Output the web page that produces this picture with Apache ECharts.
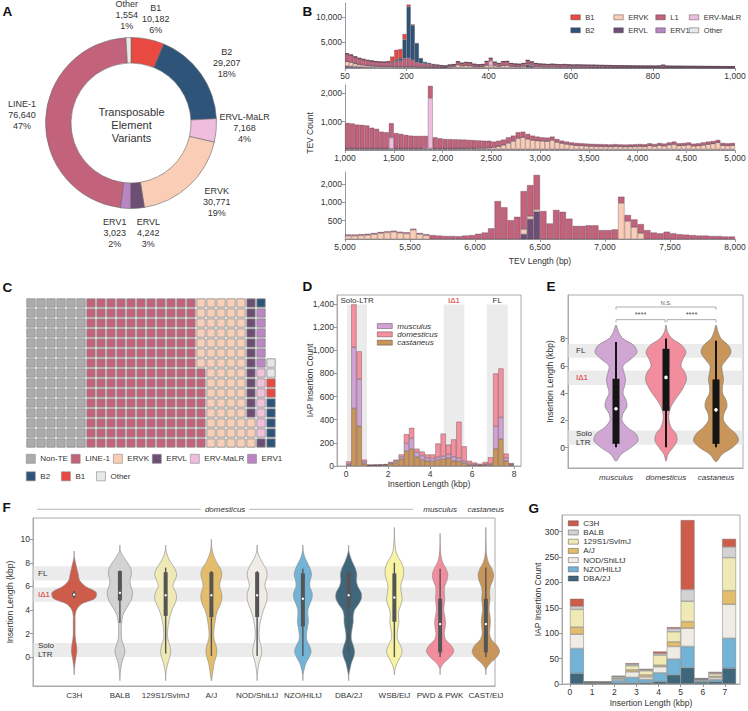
<!DOCTYPE html>
<html>
<head>
<meta charset="utf-8">
<script src="https://cdn.jsdelivr.net/npm/echarts@6.0.0/dist/echarts.min.js"></script>
<style>
html,body{margin:0;padding:0;background:#ffffff;}
#chart{width:748px;height:711px;}
</style>
</head>
<body>
<div id="chart"></div>
<script>
const FONT = '"Liberation Sans", Arial, Helvetica, sans-serif';

// ================= DATA =================
// ---- Panel A (donut) ----
const pieNames  = ['B1','B2','ERVL-MaLR','ERVK','ERVL','ERV1','LINE-1','Other'];
const pieValues = [10182,29207,7168,30771,4242,3023,76640,1554];
const pieColors = ['#e84a41','#2e5479','#efbdde','#f9cdb6','#6d4f75','#b985c2','#c3627b','#e8e8e8'];
const pieLabelOffsets = [[3,5],[5,4],[3,-5],[10,-2],[9,-1],[-9,-1],[2,-4],[-1,3]];

// ---- Panel B (TEV length histograms) ----
// top: 50-1000 bp, 10 bp bins
const bTopStart = 50, bTopWidth = 10;
const ervlTop = [400,350,300,250,200,150,150,120,100,100, 100,100,100,100,100,100,100,80,70,60,50,50,
  40,40,30,40,50,60,50,60,60,50,50,50,60, 60,60,60,60,70,60,60,60,80,
  700,400,100,60,50,50,50,50,40,40,40,40,40,
  40,40,40,40,30,30,30,30,30,30,30,30,30,30,30,30,30,30,30,30,30,30,30,30,30,30,30,30,30,30,30,30,30,30,30,30,30,30];
const ervkTop = [900,800,600,450,400,350,300,250,220,200, 200,180,150,150,150,150,150,150,150,150,150,130,
  150,130,130,220,280,600,400,450,400,250,220,250,500, 400,350,300,450,500,300,250,230,300,
  200,250,250,250,220,200,230,200,180,200,180,160,170,
  150,150,140,140,130,130,120,120,110,110,100,100,100,90,90,90,80,80,80,90,100,80,80,70,70,70,70,70,60,60,60,60,60,60,50,50,50,50];
const l1Top = [1500,1400,1300,1200,1100,1000,950,900,880,870, 880,900,1000,1150,1600,1700,1300,900,700,600,500,450,
  370,310,270,340,370,590,500,590,590,450,380,400,740, 540,640,540,740,730,540,490,460,520,
  600,550,550,490,480,450,470,450,430,460,430,400,410,
  410,390,380,380,380,360,360,350,340,330,330,320,310,310,300,290,290,290,280,300,430,270,260,260,260,250,240,240,240,240,230,230,220,220,220,220,210,210];
const malrTopPairs = [[400,900],[410,100]];
const b2TopPairs = [[160,60],[170,300],[180,500],[190,3700],[200,10000],[210,6800],[220,3650],[230,930],[240,290],[250,200],[260,80],[270,40],[280,20]];
const b1TopPairs = [[150,200],[160,1000],[170,2000],[180,1800],[190,1100],[200,450],[210,150],[220,90],[230,50],[240,20],[250,20],[260,10]];
const bTopXTicks = [50,200,400,600,800,1000];
const bTopYTicks = [5000,10000];

// middle: 1000-5000 bp, 50 bp bins
const bMidStart = 1000, bMidWidth = 50;
const ervlMid = [25,25,25,25,25,25,25,25,25,25,25,25,25,25,25,25,25,25,25,25,25,25,25,25,25,25,25,25,25,25,
  25,25,25,25,25,25,25,25,25,25,25,25,25,25,25,25,20,20,20,20,20,20,20,20,20,20,20,20,20,20,
  20,20,20,20,20,20,20,20,20,20,20,20,20,20,20,20,20,20,20,20];
const ervkMid = [30,30,30,30,30,30,30,30,30,30,30,30,30,30,30,30,30,30,30,30,30,30,30,
  35,35,40,40,50,50,60,
  80,110,160,230,300,400,430,370,330,310,300,290,330,260,220,190,
  170,150,140,130,120,115,110,110,105,110,105,100,105,110,114,110,140,120,150,130,170,190,140,150,170,130,140,160,190,210,250,150,140,150];
const l1Mid = [905,885,845,835,815,735,695,595,575,515,545,515,480,455,445,445,425,435,
  395,360,335,330,325,315,310,295,285,265,255,245,
  195,195,185,195,185,205,195,175,155,141,125,125,121,105,88,85,
  80,80,80,80,80,80,80,75,75,80,75,75,75,75,80,75,80,74,80,80,80,90,80,80,80,76,80,90,90,90,87,80,80,80];
const malrMidPairs = [[1450,380],[1800,20],[1850,1780]];
const bMidXTicks = [1000,1500,2000,2500,3000,3500,4000,4500,5000];
const bMidYTicks = [1000,2000];

// bottom: 5000-8000 bp, 50 bp bins (log count axis)
const bBotStart = 5000, bBotWidth = 50;
const ervlBot = [10,10,10,10,10,10,10,10,10,10,10,10,10,10,10,10,10,10,10,10,10,10,10,10,10,10,10,
  300,530,700,
  10,10,10,10,10,10,10,10,10,10,10,10,10,10,10,10,10,10,10,10,10,10,10,10,10,10,10,10,10,10];
const ervkBot = [272,272,275,280,289,301,309,318,305,297,345,289,275,
  150,120,100,90,90,80,80,90,100,100,
  80,70,60,60,60,60,60,60,60,60,70,70,80,80,90,90,100,110,130,
  960,480,380,300,220,200,190,210,190,180,175,170,170,165,165,160,160,155];
const l1Bot = [15,15,15,15,15,15,15,15,15,15,15,15,15,
  130,155,170,180,178,195,200,205,210,265,
  960,750,440,510,1170,1330,2060,650,380,680,620,460,320,320,320,320,240,230,220,
  270,130,135,130,120,110,110,110,110,110,110,110,105,110,105,110,105,110];
const bBotXTicks = [5000,5500,6000,6500,7000,7500,8000];
const bBotYTicks = [500,1000,2000];

// ---- Panel C (waffle, 25 x 15) ----
const waffleNames  = ['Non-TE','LINE-1','ERVK','ERVL','ERV-MaLR','ERV1','B2','B1','Other'];
const waffleCounts = [90,173,70,13,7,6,6,2,2];
const waffleColors = ['#acacac','#c3627b','#f9cfb7','#6d4f75','#f0c0dd','#bb86c3','#2e5479','#e84a41','#e6e6e6'];

// ---- Panel D (IAP insertion length histogram, 0.25 kbp bins) ----
const dStart = 0, dWidth = 0.25;
const dCastaneus  = [8,498,345,20,5,6,7,8,18,30,60,130,147,80,55,45,40,55,60,70,45,40,25,10,8,6,8,10,150,232,45,10];
const dMusculus   = [10,528,406,15,3,3,3,4,8,12,20,65,92,40,35,25,25,20,25,30,35,30,15,10,6,4,7,10,195,188,25,5];
const dDomesticus = [22,371,240,20,2,2,2,4,10,13,20,80,91,30,35,30,35,120,195,85,150,313,130,25,16,10,20,55,455,423,37,10];
const dBands = [[0.05,1.0],[4.65,5.63],[6.7,7.7]];
const dBandLabels = ['Solo-LTR','I\u03941','FL'];
const dBandTop = 1395;
const dXTicks = [0,2,4,6,8];
const dYTicks = [0,200,400,600,800,1000,1200,1400];

// ---- Panel E (violins by subspecies) ----
const eCats = ['musculus','domesticus','castaneus'];
const eColors = ['#d0a6d4','#f28d9e','#c8955a'];
const eY = [-1,-0.5,0,0.5,1,1.5,2,2.5,3,3.5,4,4.5,5,5.5,6,6.5,7,7.5,8,8.5,9];
const eProfiles = [
  [0,0.10,0.30,0.44,0.40,0.22,0.12,0.14,0.22,0.20,0.14,0.17,0.19,0.16,0.14,0.30,0.42,0.36,0.14,0.05,0],
  [0,0.04,0.14,0.22,0.20,0.10,0.06,0.06,0.10,0.18,0.28,0.36,0.41,0.38,0.30,0.34,0.40,0.32,0.12,0.03,0],
  [0.02,0.12,0.33,0.45,0.40,0.25,0.15,0.16,0.22,0.20,0.13,0.13,0.15,0.13,0.12,0.22,0.30,0.25,0.10,0.04,0]
];
// [whiskerLow, q1, median, q3, whiskerHigh]
const eBoxes = [[0.02,0.27,2.85,5.05,7.75],[0.02,2.7,5.15,7.25,8.0],[0.02,0.27,2.77,5.0,7.85]];
const eBands = [[0.2,1.25],[4.6,5.65],[6.6,7.6]];
const eBandLabels = ['Solo\nLTR','I\u03941','FL'];
const eBrackets = [[0,2,10.32,0.2],[0,0.98,9.39,0.2],[1.02,2,9.39,0.2]];
const eBracketLabels = ['N.S.','****','****'];
const eXTicks = [0,1,2];
const eYTicks = [0,2,4,6,8];

// ---- Panel F (violins by strain) ----
const fCats = ['C3H','BALB','129S1/SvImJ','A/J','NOD/ShiLtJ','NZO/HILtJ','DBA/2J','WSB/EiJ','PWD & PWK','CAST/EiJ'];
const fColors = ['#cd5c4b','#d3d3d3','#efeab5','#e3bd6b','#efebe5','#72b3d6','#3f667b','#f7f3a3','#f28d9e','#c8955a'];
const fY = [-2,-1.5,-1,-0.5,0,0.5,1,1.5,2,2.5,3,3.5,4,4.5,5,5.5,6,6.5,7,7.5,8,8.5,9,9.5,10,10.5,11];
const fProfiles = [
  [0,0,0.005,0.02,0.04,0.06,0.05,0.03,0.02,0.02,0.02,0.02,0.05,0.16,0.46,0.48,0.25,0.12,0.09,0.06,0.03,0.005,0,0,0,0,0],
  [0,0.005,0.02,0.04,0.08,0.11,0.08,0.04,0.03,0.03,0.04,0.06,0.12,0.2,0.26,0.28,0.24,0.22,0.25,0.24,0.17,0.08,0.01,0,0,0,0],
  [0,0.003,0.02,0.05,0.09,0.11,0.09,0.05,0.04,0.05,0.07,0.1,0.14,0.2,0.24,0.22,0.16,0.2,0.24,0.2,0.12,0.05,0.012,0,0,0,0],
  [0.003,0.02,0.04,0.06,0.1,0.12,0.1,0.06,0.05,0.06,0.08,0.1,0.14,0.2,0.23,0.22,0.18,0.2,0.23,0.2,0.12,0.06,0.02,0.004,0,0,0],
  [0,0.005,0.02,0.04,0.08,0.1,0.08,0.05,0.04,0.05,0.07,0.1,0.14,0.19,0.22,0.21,0.17,0.19,0.22,0.19,0.12,0.05,0.008,0,0,0,0],
  [0,0.005,0.03,0.07,0.14,0.18,0.14,0.08,0.08,0.1,0.12,0.11,0.11,0.15,0.2,0.2,0.15,0.16,0.19,0.16,0.1,0.04,0.008,0,0,0,0],
  [0,0.005,0.03,0.06,0.11,0.13,0.1,0.06,0.06,0.08,0.1,0.1,0.13,0.22,0.28,0.27,0.2,0.17,0.18,0.15,0.09,0.04,0.005,0,0,0,0],
  [0,0,0.015,0.06,0.13,0.17,0.13,0.07,0.06,0.08,0.1,0.09,0.1,0.15,0.17,0.15,0.14,0.17,0.2,0.2,0.16,0.08,0.03,0.015,0.008,0.002,0],
  [0,0,0.005,0.08,0.22,0.3,0.24,0.12,0.09,0.11,0.12,0.1,0.08,0.09,0.1,0.09,0.1,0.15,0.17,0.13,0.06,0.025,0.01,0.005,0.001,0,0],
  [0,0,0.01,0.1,0.24,0.3,0.24,0.12,0.08,0.09,0.1,0.09,0.07,0.08,0.09,0.08,0.1,0.15,0.17,0.13,0.06,0.025,0.01,0.006,0.004,0.002,0.001]
];
const fBoxes = [[5.0,5.15,5.3,5.45,5.6],[2.9,4.8,5.45,7.3,7.35],[0.3,3.5,5.25,7.2,7.6],[0.1,3.4,5.25,7.2,7.3],
  [0.1,3.4,5.25,7.2,7.3],[0.1,2.6,4.95,7.1,7.5],[0.3,4.2,5.25,7.2,7.3],[0.0,3.0,5.05,7.1,8.0],
  [0.0,0.4,2.8,4.95,7.5],[0.0,0.4,2.8,4.95,7.6]];
const fBands = [[0.0,1.2],[4.7,5.9],[6.5,7.7]];
const fBandLabels = ['Solo\nLTR','I\u03941','FL'];
const fGroups = [[-0.81,7.41,12.54],[8,8,12.54],[9,9,12.54]];
const fGroupLabels = ['domesticus','musculus','castaneus'];
const fYTicks = [0,2,4,6,8,10];

// ---- Panel G (stacked strain histogram, 0.625 kbp bins) ----
const gStart = 0, gWidth = 0.625;
const gNames = ['DBA/2J','NZO/HILtJ','NOD/ShiLtJ','A/J','129S1/SvImJ','BALB','C3H'];
const gColors = ['#3f667b','#72b3d6','#efebe5','#e3bd6b','#efeab5','#d3d3d3','#cd5c4b'];
const gDBA  = [21,1,2,2,2,3,5,18,32,4,5,31];
const gNZO  = [49,1,1,5,11,6,17,31,42,2,4,59];
const gNOD  = [28,1,0,3,11,5,12,25,36,2,4,67];
const gAJ   = [14,0,0,1,4,4,3,9,13,1,2,27];
const g129  = [35,1,1,3,8,8,20,20,40,1,5,65];
const gBALB = [6,0,0,1,3,2,3,6,23,1,2,21];
const gC3H  = [15,1,0,1,2,2,4,3,137,0,2,16];
const gXTicks = [0,1,2,3,4,5,6,7];
const gYTicks = [0,50,100,150,200,250,300];

// ================= HELPERS =================
const bColor = {'ERVL':'#6d4f75','ERVK':'#f9cdb6','ERV-MaLR':'#efbdde','L1':'#c3627b','B2':'#2e5479','B1':'#e84a41','ERV1':'#b985c2','Other':'#e8e8e8'};
const fmt = v => Number(v).toLocaleString('en-US');
function merge(a, b) {
  const out = Object.assign({}, a);
  for (const k in b) {
    if (b[k] && typeof b[k] === 'object' && !Array.isArray(b[k]) && a[k] && typeof a[k] === 'object' && !Array.isArray(a[k])) out[k] = merge(a[k], b[k]);
    else out[k] = b[k];
  }
  return out;
}
function expandBins(pairs, start, width, n) {
  const arr = new Array(n).fill(0);
  pairs.forEach(p => { arr[Math.round((p[0] - start) / width)] = p[1]; });
  return arr;
}
function binLabels(start, width, n) { return Array.from({length:n}, (_, k) => String(start + width * k)); }
const baseAxis = {
  type:'value', splitLine:{show:false}, nameLocation:'middle', nameMoveOverlap:false,
  axisLine:{show:true, onZero:false, lineStyle:{color:'#999', width:1}},
  axisTick:{show:true, length:3, inside:false, lineStyle:{color:'#999'}},
  axisLabel:{fontSize:8.5, color:'#333', fontFamily:FONT, margin:3, hideOverlap:false},
  nameTextStyle:{fontSize:8.5, color:'#333', fontFamily:FONT}
};
function ax(o) { return merge(baseAxis, o); }
function ticks(vals, formatter) {
  const o = {axisLabel:{customValues:vals}, axisTick:{customValues:vals}};
  if (formatter) o.axisLabel.formatter = formatter;
  return o;
}
function hist(name, xi, yi, vals, stack, color, border) {
  return {type:'bar', name, xAxisIndex:xi, yAxisIndex:yi, stack, barWidth:'100%', barCategoryGap:0, silent:true, z:2,
    itemStyle:{color, borderColor:border, borderWidth:0.5}, data: vals};
}

// ================= LAYOUT =================
const G = {
  bTop:{left:345, top:3, width:390, height:65},
  bMid:{left:345, top:85, width:390, height:65},
  bBot:{left:345, top:172, width:390, height:67},
  c:{left:26, top:298, width:250, height:150},
  d:{left:337, top:295, width:184, height:171, xMin:-0.43, xMax:8.33, yMax:1478},
  e:{left:568, top:295, width:175, height:173},
  f:{left:33, top:518, width:462, height:168},
  g:{left:562, top:515, width:178, height:169, xMin:-0.36, xMax:7.68, yMax:333}
};
// sub-grid holding the binned bars, aligned to the value axis of the same panel
function binGrid(g, start, end) {
  const s = g.width / (g.xMax - g.xMin);
  return {left: g.left + (start - g.xMin) * s, top:g.top, width:(end - start) * s, height:g.height};
}
const nD = dCastaneus.length, nG = gDBA.length;

// ================= SERIES =================
const series = [];
// A: donut + label ring
series.push({type:'pie', radius:[60,85.5], center:[131,123], startAngle:90, clockwise:true, silent:true,
  label:{show:false}, labelLine:{show:false}, emphasis:{disabled:true},
  itemStyle:{borderColor:'#6a6a6a', borderWidth:0.6},
  data: pieNames.map((n,i) => ({name:n, value:pieValues[i], itemStyle:{color:pieColors[i]}}))});
const pieTotal = pieValues.reduce((a,b) => a + b, 0);
series.push({type:'pie', radius:[100,116], center:[131,123], startAngle:90, clockwise:true, silent:true,
  emphasis:{disabled:true}, itemStyle:{color:'rgba(0,0,0,0)', borderWidth:0},
  label:{show:true, position:'inside', fontSize:9, lineHeight:11, color:'#333', fontFamily:FONT,
    formatter: p => p.name + '\n' + fmt(p.value) + '\n' + Math.round(p.value / pieTotal * 100) + '%'},
  labelLine:{show:false},
  data: pieNames.map((n,i) => ({name:n, value:pieValues[i], label:{offset:pieLabelOffsets[i]}}))});

// B histograms (category x axes 8,9,10 share grids 0,1,2)
const bBorder = 'rgba(55,35,55,0.55)';
const nTop = ervlTop.length, nMid = ervlMid.length, nBot = ervlBot.length;
[['ERVL',ervlTop],['ERVK',ervkTop],['ERV-MaLR',expandBins(malrTopPairs,bTopStart,bTopWidth,nTop)],['L1',l1Top],
 ['B2',expandBins(b2TopPairs,bTopStart,bTopWidth,nTop)],['B1',expandBins(b1TopPairs,bTopStart,bTopWidth,nTop)],['ERV1',[]],['Other',[]]]
 .forEach(([n,v]) => series.push(hist(n,8,0,v,'bt',bColor[n],bBorder)));
[['ERVL',ervlMid],['ERVK',ervkMid],['ERV-MaLR',expandBins(malrMidPairs,bMidStart,bMidWidth,nMid)],['L1',l1Mid]]
 .forEach(([n,v]) => series.push(hist(n,9,1,v,'bm',bColor[n],bBorder)));
[['ERVL',ervlBot],['ERVK',ervkBot],['L1',l1Bot]]
 .forEach(([n,v]) => series.push(hist(n,10,2,v,'bb',bColor[n],bBorder)));

// C waffle
const WROWS = 15, WCOLS = 25;
let cell = 0;
waffleNames.forEach((n,i) => {
  const d = [];
  for (let k = 0; k < waffleCounts[i]; k++) { d.push([Math.floor(cell / WROWS), cell % WROWS]); cell++; }
  series.push({type:'scatter', name:n, xAxisIndex:3, yAxisIndex:3, symbol:'rect', symbolSize:8.4, silent:true,
    itemStyle:{color:waffleColors[i], borderColor:'#8c8c8c', borderWidth:0.8, opacity:1}, data:d});
});

// D
series.push({type:'custom', xAxisIndex:4, yAxisIndex:4, z:1, silent:true, data:dBands.map((b,i)=>[i,0]),
  renderItem:(params, api) => {
    const i = params.dataIndex;
    const p1 = api.coord([dBands[i][0], dBandTop]), p2 = api.coord([dBands[i][1], 0]);
    return {type:'group', children:[
      {type:'rect', shape:{x:p1[0], y:p1[1], width:p2[0]-p1[0], height:p2[1]-p1[1]}, style:{fill:'#ebebeb'}},
      {type:'text', x:(p1[0]+p2[0])/2, y:p1[1]-0.5, style:{text:dBandLabels[i], fill:i===1?'#d62b2b':'#333', fontSize:8, fontFamily:FONT, align:'center', verticalAlign:'bottom'}}
    ]};
  }});
const dBorder = 'rgba(80,55,60,0.7)';
series.push(hist('castaneus',11,8,dCastaneus,'d','#c8955a',dBorder));
series.push(hist('musculus',11,8,dMusculus,'d','#cfa3d4',dBorder));
series.push(hist('domesticus',11,8,dDomesticus,'d','#f4919f',dBorder));

// violin helpers
function violinRenderer(profiles, ys, colors, stroke) {
  return (params, api) => {
    const i = params.dataIndex, cx = api.value(0), prof = profiles[i];
    let a = 0, b = prof.length - 1;
    while (a < b && prof[a] === 0 && prof[a+1] === 0) a++;
    while (b > a && prof[b] === 0 && prof[b-1] === 0) b--;
    const pts = [];
    for (let k = a; k <= b; k++) pts.push(api.coord([cx + prof[k], ys[k]]));
    for (let k = b; k >= a; k--) { if ((k === a || k === b) && prof[k] === 0) continue; pts.push(api.coord([cx - prof[k], ys[k]])); }
    return {type:'polygon', shape:{points:pts, smooth:0.3}, style:{fill:colors[i], stroke, lineWidth:0.6}};
  };
}
function boxRenderer(boxes, color, bw, lw, r) {
  return (params, api) => {
    const i = params.dataIndex, cx = api.value(0), bx = boxes[i];
    const lo = api.coord([cx, bx[0]]), q1 = api.coord([cx, bx[1]]), md = api.coord([cx, bx[2]]), q3 = api.coord([cx, bx[3]]), hi = api.coord([cx, bx[4]]);
    return {type:'group', children:[
      {type:'line', shape:{x1:lo[0], y1:lo[1], x2:hi[0], y2:hi[1]}, style:{stroke:color, lineWidth:lw}},
      {type:'rect', shape:{x:q3[0]-bw/2, y:q3[1], width:bw, height:q1[1]-q3[1]}, style:{fill:color}},
      {type:'circle', shape:{cx:md[0], cy:md[1], r}, style:{fill:'#ffffff'}}
    ]};
  };
}
function hBandRenderer(bands, labels, dx) {
  return (params, api) => {
    const i = params.dataIndex, cs = params.coordSys;
    const yT = api.coord([0, bands[i][1]])[1], yB = api.coord([0, bands[i][0]])[1];
    return {type:'group', children:[
      {type:'rect', shape:{x:cs.x+0.5, y:yT, width:cs.width-1, height:yB-yT}, style:{fill:'#ebebeb'}},
      {type:'text', x:cs.x+dx, y:(yT+yB)/2, style:{text:labels[i], fill:labels[i].indexOf('\u0394')>=0?'#d62b2b':'#333', fontSize:8, lineHeight:9, fontFamily:FONT, align:'left', verticalAlign:'middle'}}
    ]};
  };
}

// E
series.push({type:'custom', xAxisIndex:5, yAxisIndex:5, z:1, silent:true, data:eBands.map((b,i)=>[0,i]), renderItem:hBandRenderer(eBands, eBandLabels, 8)});
series.push({type:'custom', xAxisIndex:5, yAxisIndex:5, z:3, silent:true, data:eCats.map((c,i)=>[i,0]), renderItem:violinRenderer(eProfiles, eY, eColors, '#777')});
series.push({type:'custom', xAxisIndex:5, yAxisIndex:5, z:4, silent:true, data:eCats.map((c,i)=>[i,0]), renderItem:boxRenderer(eBoxes, '#151515', 7, 2, 1.8)});
series.push({type:'custom', xAxisIndex:5, yAxisIndex:5, z:4, silent:true, data:eBrackets.map((b,i)=>[b[0],b[2]]),
  renderItem:(params, api) => {
    const i = params.dataIndex, br = eBrackets[i];
    const a = api.coord([br[0], br[2]]), b = api.coord([br[1], br[2]]), a2 = api.coord([br[0], br[2]-br[3]]);
    return {type:'group', children:[
      {type:'polyline', shape:{points:[[a[0],a2[1]],[a[0],a[1]],[b[0],b[1]],[b[0],a2[1]]]}, style:{stroke:'#999', lineWidth:0.8, fill:null}},
      {type:'text', x:(a[0]+b[0])/2, y:a[1]-1, style:{text:eBracketLabels[i], fill:'#555', fontSize:i===0?5.5:7.5, fontFamily:FONT, align:'center', verticalAlign:'bottom'}}
    ]};
  }});

// F
series.push({type:'custom', xAxisIndex:6, yAxisIndex:6, z:1, silent:true, data:fBands.map((b,i)=>[0,i]), renderItem:hBandRenderer(fBands, fBandLabels, 5)});
series.push({type:'custom', xAxisIndex:6, yAxisIndex:6, z:3, silent:true, data:fCats.map((c,i)=>[i,0]), renderItem:violinRenderer(fProfiles, fY, fColors, '#8a8a8a')});
series.push({type:'custom', xAxisIndex:6, yAxisIndex:6, z:4, silent:true, data:fCats.map((c,i)=>[i,0]), renderItem:boxRenderer(fBoxes, '#555555', 4, 1.4, 1.2)});
series.push({type:'custom', xAxisIndex:6, yAxisIndex:6, z:4, silent:true, clip:false, data:fGroups.map(g=>[g[0],g[2]]),
  renderItem:(params, api) => {
    const i = params.dataIndex, g = fGroups[i];
    const a = api.coord([g[0], g[2]]), b = api.coord([g[1], g[2]]);
    const ch = [];
    if (b[0] - a[0] > 1) ch.push({type:'line', shape:{x1:a[0], y1:a[1], x2:b[0], y2:b[1]}, style:{stroke:'#c4c4c4', lineWidth:1.2}});
    ch.push({type:'text', x:(a[0]+b[0])/2, y:a[1], style:{text:fGroupLabels[i], fill:'#333', fontSize:8, fontStyle:'italic', fontFamily:FONT, align:'center', verticalAlign:'middle', backgroundColor:'#ffffff', padding:[0,4]}});
    return {type:'group', children:ch};
  }});

// G
const gSeriesVals = [gDBA, gNZO, gNOD, gAJ, g129, gBALB, gC3H];
gNames.forEach((n,i) => series.push(hist(n,12,9,gSeriesVals[i],'g',gColors[i],'#7a7a7a')));

// ================= AXES =================
const hiddenCat = (gridIndex, data) => ({gridIndex, type:'category', data, show:false, boundaryGap:true, axisLine:{show:false}, axisTick:{show:false}, axisLabel:{show:false}});
const xAxes = [
  ax(merge({gridIndex:0, min:50, max:1000}, ticks(bTopXTicks, fmt))),
  ax(merge({gridIndex:1, min:1000, max:5000}, ticks(bMidXTicks, fmt))),
  ax(merge({gridIndex:2, min:5000, max:8000, name:'TEV Length (bp)', nameGap:17}, ticks(bBotXTicks, fmt))),
  {gridIndex:3, type:'category', data:Array.from({length:WCOLS},(_, i)=>String(i)), show:false, boundaryGap:true},
  ax(merge({gridIndex:4, min:G.d.xMin, max:G.d.xMax, name:'Insertion Length (kbp)', nameGap:13, axisLine:{lineStyle:{color:'#aaa'}}}, ticks(dXTicks))),
  ax(merge({gridIndex:5, min:-0.96, max:2.54, axisTick:{show:false}, axisLine:{lineStyle:{color:'#aaa'}}, axisLabel:{fontStyle:'italic', fontSize:8, margin:5}}, ticks(eXTicks, v => eCats[Math.round(v)]))),
  ax(merge({gridIndex:6, min:-0.9, max:9.2, axisTick:{show:false}, axisLine:{lineStyle:{color:'#aaa'}}, axisLabel:{fontSize:8, margin:5}}, ticks(fCats.map((c,i)=>i), v => fCats[Math.round(v)]))),
  ax(merge({gridIndex:7, min:G.g.xMin, max:G.g.xMax, name:'Insertion Length (kbp)', nameGap:14, axisLine:{lineStyle:{color:'#aaa'}}}, ticks(gXTicks))),
  hiddenCat(0, binLabels(bTopStart, bTopWidth, nTop)),
  hiddenCat(1, binLabels(bMidStart, bMidWidth, nMid)),
  hiddenCat(2, binLabels(bBotStart, bBotWidth, nBot)),
  hiddenCat(8, binLabels(dStart, dWidth, nD)),
  hiddenCat(9, binLabels(gStart, gWidth, nG))
];
const yAxes = [
  ax(merge({gridIndex:0, min:0, max:12700}, ticks(bTopYTicks, fmt))),
  ax(merge({gridIndex:1, min:0, max:2300}, ticks(bMidYTicks, fmt))),
  ax(merge({gridIndex:2, type:'log', logBase:10, min:250, max:3150}, ticks(bBotYTicks, fmt))),
  {gridIndex:3, type:'category', data:Array.from({length:WROWS},(_, i)=>String(i)), show:false, boundaryGap:true},
  ax(merge({gridIndex:4, min:0, max:G.d.yMax, name:'IAP Insertion Count', nameGap:23, axisLine:{lineStyle:{color:'#aaa'}}}, ticks(dYTicks, fmt))),
  ax(merge({gridIndex:5, min:-1.5, max:11.2, name:'Insertion Length (kbp)', nameGap:14, axisLine:{lineStyle:{color:'#aaa'}}}, ticks(eYTicks))),
  ax(merge({gridIndex:6, min:-2.45, max:11.8, name:'Insertion Length (kbp)', nameGap:19, axisLine:{lineStyle:{color:'#aaa'}}}, ticks(fYTicks))),
  ax(merge({gridIndex:7, min:0, max:G.g.yMax, name:'IAP Insertion Count', nameGap:20, axisLine:{lineStyle:{color:'#aaa'}}}, ticks(gYTicks))),
  {gridIndex:8, type:'value', min:0, max:G.d.yMax, show:false},
  {gridIndex:9, type:'value', min:0, max:G.g.yMax, show:false}
];

const boxGrid = {show:true, borderColor:'#aaa', borderWidth:1, backgroundColor:'transparent', containLabel:false, outerBoundsMode:'none'};
const plainGrid = {show:false, containLabel:false, outerBoundsMode:'none'};
const pick = g => ({left:g.left, top:g.top, width:g.width, height:g.height});
const grids = [
  merge(plainGrid, pick(G.bTop)),
  merge(plainGrid, pick(G.bMid)),
  merge(plainGrid, pick(G.bBot)),
  merge(plainGrid, pick(G.c)),
  merge(boxGrid, pick(G.d)),
  merge(boxGrid, pick(G.e)),
  merge(boxGrid, pick(G.f)),
  merge(boxGrid, pick(G.g)),
  merge(plainGrid, binGrid(G.d, dStart, dStart + dWidth * nD)),
  merge(plainGrid, binGrid(G.g, gStart, gStart + gWidth * nG))
];

const legTxt = {fontSize:8, color:'#333', fontFamily:FONT};
const legBase = {padding:0, selectedMode:false, icon:'rect', textStyle:legTxt, itemStyle:{borderColor:'rgba(60,50,60,0.7)', borderWidth:0.6}};
const bLeg = {orient:'vertical', top:11.8, itemWidth:9.5, itemHeight:5, itemGap:2, textStyle:{lineHeight:11, fontSize:7.5}};
const legends = [
  merge(legBase, merge(bLeg, {data:['B1','B2'], left:570.5})),
  merge(legBase, merge(bLeg, {data:['ERVK','ERVL'], left:613.5})),
  merge(legBase, merge(bLeg, {data:['L1','ERV1'], left:655.5})),
  merge(legBase, merge(bLeg, {data:['ERV-MaLR','Other'], left:689})),
  merge(legBase, {data:['Non-TE','LINE-1','ERVK','ERVL','ERV-MaLR','ERV1'], left:26, top:454, itemWidth:9, itemHeight:9, itemGap:3, itemStyle:{borderColor:'#888'}, textStyle:{lineHeight:9}}),
  merge(legBase, {data:['B2','B1','Other'], left:26, top:471.5, itemWidth:9, itemHeight:9, itemGap:11, itemStyle:{borderColor:'#888'}, textStyle:{lineHeight:9}}),
  merge(legBase, {data:['musculus','domesticus','castaneus'], left:377, top:321.9, orient:'vertical', itemWidth:15, itemHeight:5, itemGap:0, textStyle:{fontStyle:'italic', lineHeight:8.3}}),
  merge(legBase, {data:['C3H','BALB','129S1/SvImJ','A/J','NOD/ShiLtJ','NZO/HILtJ','DBA/2J'], left:568, top:518.7, orient:'vertical', itemWidth:10, itemHeight:5, itemGap:0, textStyle:{lineHeight:9.2}})
];

const letter = (t, x, y) => ({type:'text', x, y, style:{text:t, fontSize:13.5, fontWeight:'bold', fill:'#111', fontFamily:FONT, verticalAlign:'top'}});
const graphic = [
  letter('A', 2.5, 4.5), letter('B', 302.5, 4), letter('C', 2.5, 280), letter('D', 302.5, 279), letter('E', 546.5, 279), letter('F', 2.5, 500), letter('G', 528.5, 501),
  {type:'text', x:131.5, y:125, style:{text:'Transposable\nElement\nVariants', align:'center', verticalAlign:'middle', fontSize:11, lineHeight:13.3, fill:'#333', fontFamily:FONT}},
  {type:'text', x:310, y:133, rotation:Math.PI/2, style:{text:'TEV Count', align:'center', verticalAlign:'middle', fontSize:8.5, fill:'#333', fontFamily:FONT}}
];

const chart = echarts.init(document.getElementById('chart'), null, {renderer:'svg', width:748, height:711});
chart.setOption({
  animation:false,
  backgroundColor:'#ffffff',
  textStyle:{fontFamily:FONT},
  grid:grids, xAxis:xAxes, yAxis:yAxes, legend:legends, graphic, series
});
</script>
</body>
</html>
